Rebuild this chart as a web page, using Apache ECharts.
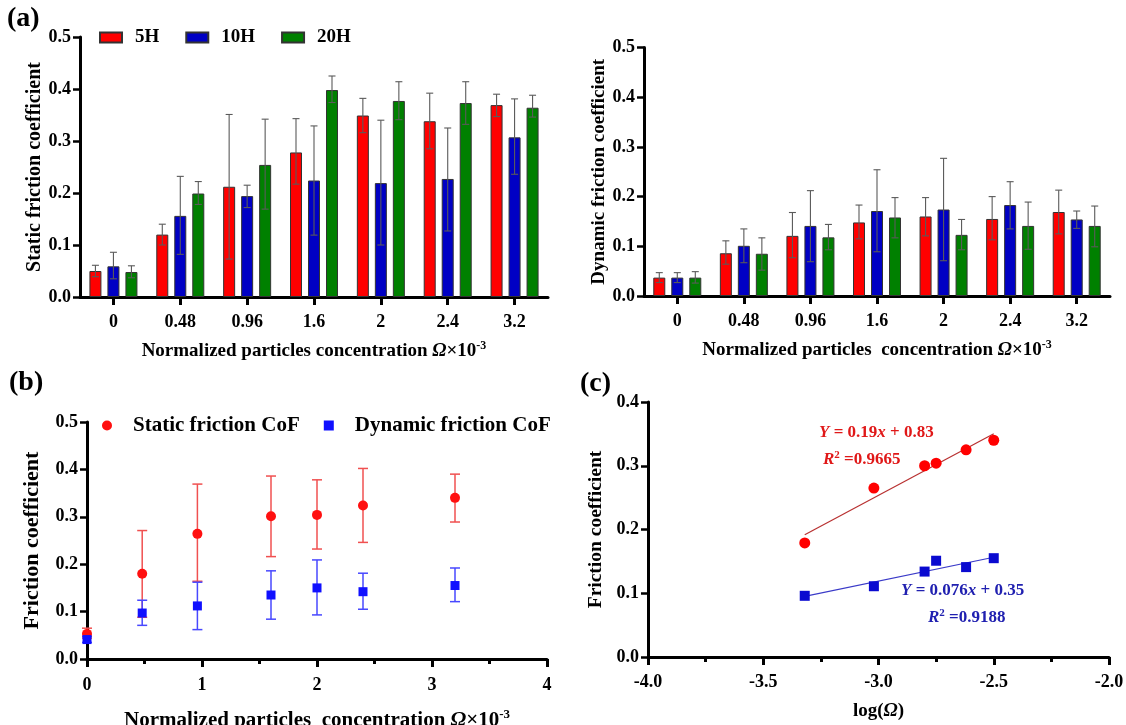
<!DOCTYPE html>
<html>
<head>
<meta charset="utf-8">
<script src="https://cdn.jsdelivr.net/npm/echarts@6/dist/echarts.min.js"></script>
<style>
html,body{margin:0;padding:0;background:#fff;}
#chart{width:1126px;height:725px;}
</style>
</head>
<body>
<div id="chart"></div>
<script>
// ---------- DATA ----------
const categories = ['0', '0.48', '0.96', '1.6', '2', '2.4', '3.2'];
const seriesNames = ['5H', '10H', '20H'];

// (a) static friction coefficient: bar means, lower / upper error limits
const static5H    = [0.050, 0.120, 0.212, 0.278, 0.349, 0.338, 0.369];
const static5HLo  = [0.039, 0.100, 0.073, 0.217, 0.316, 0.285, 0.347];
const static5HHi  = [0.061, 0.140, 0.351, 0.343, 0.382, 0.392, 0.390];
const static10H   = [0.059, 0.156, 0.194, 0.224, 0.219, 0.227, 0.307];
const static10HLo = [0.035, 0.082, 0.172, 0.119, 0.100, 0.127, 0.236];
const static10HHi = [0.086, 0.232, 0.215, 0.329, 0.340, 0.325, 0.381];
const static20H   = [0.048, 0.199, 0.254, 0.398, 0.377, 0.373, 0.364];
const static20HLo = [0.037, 0.178, 0.169, 0.374, 0.341, 0.332, 0.346];
const static20HHi = [0.060, 0.222, 0.342, 0.425, 0.414, 0.414, 0.388];

// (a) dynamic friction coefficient
const dyn5H    = [0.037, 0.086, 0.121, 0.148, 0.160, 0.155, 0.169];
const dyn5HLo  = [0.027, 0.064, 0.077, 0.115, 0.121, 0.113, 0.125];
const dyn5HHi  = [0.047, 0.111, 0.168, 0.183, 0.198, 0.200, 0.213];
const dyn10H   = [0.037, 0.101, 0.141, 0.171, 0.174, 0.183, 0.154];
const dyn10HLo = [0.027, 0.067, 0.069, 0.089, 0.071, 0.135, 0.136];
const dyn10HHi = [0.047, 0.135, 0.212, 0.254, 0.277, 0.230, 0.171];
const dyn20H   = [0.037, 0.085, 0.118, 0.158, 0.123, 0.141, 0.141];
const dyn20HLo = [0.026, 0.052, 0.093, 0.117, 0.093, 0.094, 0.099];
const dyn20HHi = [0.049, 0.117, 0.144, 0.198, 0.154, 0.189, 0.181];

// (b) averaged CoF vs concentration
const concX        = [0, 0.48, 0.96, 1.6, 2, 2.4, 3.2];
const meanStatic   = [0.053, 0.180, 0.264, 0.301, 0.304, 0.324, 0.340];
const meanStaticLo = [0.044, 0.088, 0.164, 0.216, 0.232, 0.246, 0.289];
const meanStaticHi = [0.065, 0.271, 0.369, 0.386, 0.378, 0.402, 0.390];
const meanDyn      = [0.041, 0.097, 0.112, 0.135, 0.150, 0.142, 0.155];
const meanDynLo    = [0.035, 0.071, 0.062, 0.084, 0.093, 0.105, 0.121];
const meanDynHi    = [0.047, 0.124, 0.162, 0.186, 0.209, 0.181, 0.192];

// (c) CoF vs log(Omega)
const logX      = [-3.32, -3.02, -2.80, -2.75, -2.62, -2.50];
const logStatic = [0.179, 0.265, 0.300, 0.304, 0.325, 0.340];
const logDyn    = [0.096, 0.111, 0.134, 0.151, 0.141, 0.155];

// ---------- HELPERS ----------
const FONT = "'Liberation Serif', 'Times New Roman', serif";
const RED = '#ff0000', BLUE = '#0000c4', GREEN = '#008000';

function linFit(xs, ys) {
  const n = xs.length;
  const mx = xs.reduce((a, b) => a + b, 0) / n;
  const my = ys.reduce((a, b) => a + b, 0) / n;
  let sxy = 0, sxx = 0;
  for (let i = 0; i < n; i++) { sxy += (xs[i] - mx) * (ys[i] - my); sxx += (xs[i] - mx) ** 2; }
  const k = sxy / sxx, b = my - k * mx;
  const x0 = Math.min(...xs), x1 = Math.max(...xs);
  return [[x0, k * x0 + b], [x1, k * x1 + b]];
}

function errRender(offset, color, capHalf, lw) {
  return function (params, api) {
    const x = api.value(0), lo = api.value(1), hi = api.value(2);
    const pLo = api.coord([x, lo]);
    const pHi = api.coord([x, hi]);
    const cx = pLo[0] + offset;
    const st = { stroke: color, lineWidth: lw };
    return {
      type: 'group',
      children: [
        { type: 'line', shape: { x1: cx, y1: pLo[1], x2: cx, y2: pHi[1] }, style: st },
        { type: 'line', shape: { x1: cx - capHalf, y1: pHi[1], x2: cx + capHalf, y2: pHi[1] }, style: st },
        { type: 'line', shape: { x1: cx - capHalf, y1: pLo[1], x2: cx + capHalf, y2: pLo[1] }, style: st }
      ]
    };
  };
}
function errData(xs, lo, hi) { return xs.map((x, i) => [x, lo[i], hi[i]]); }

const axLine = { show: true, lineStyle: { color: '#000', width: 3 } };
const axTick = { show: true, length: 7, lineStyle: { color: '#000', width: 2.5 } };
const lbl = (extra) => Object.assign({ color: '#000', fontFamily: FONT, fontWeight: 'bold', fontSize: 18 }, extra || {});
const nameStyle = (size) => ({
  color: '#000', fontFamily: FONT, fontWeight: 'bold', fontSize: size,
  rich: {
    n: { fontFamily: FONT, fontWeight: 'bold', fontSize: size, color: '#000', lineHeight: size + 4 },
    o: { fontFamily: FONT, fontWeight: 'bold', fontStyle: 'italic', fontSize: size, color: '#000', lineHeight: size + 4 },
    s: { fontFamily: FONT, fontWeight: 'bold', fontSize: Math.round(size * 0.62), color: '#000', lineHeight: Math.round(size * 0.7), verticalAlign: 'top' }
  }
});
const concName = (sp) => '{n|Normalized particles' + sp + 'concentration }{o|Ω}{n|×10}{s|-3}';

function yVal(gi, max, name, gap, size) {
  return {
    type: 'value', gridIndex: gi, min: 0, max: max, interval: 0.1,
    axisLine: axLine, axisTick: axTick, splitLine: { show: false },
    axisLabel: lbl({ margin: 9, formatter: v => v.toFixed(1) }),
    name: name, nameLocation: 'middle', nameGap: gap, nameTextStyle: nameStyle(size)
  };
}
function xCat(gi, gap, sp) {
  return {
    type: 'category', gridIndex: gi, data: categories,
    axisLine: axLine, axisTick: { show: true, alignWithLabel: true, length: 8, lineStyle: { color: '#000', width: 3 } },
    axisLabel: lbl({ margin: 16 }),
    name: concName(sp), nameLocation: 'middle', nameGap: gap, nameTextStyle: nameStyle(19)
  };
}

function barSeries(name, color, data, xi) {
  return {
    type: 'bar', name: name, xAxisIndex: xi, yAxisIndex: xi, data: data,
    barWidth: 12, barGap: '50%', z: 2,
    itemStyle: { color: color, borderColor: '#333', borderWidth: 1 }
  };
}
function errSeries(xi, offset, lo, hi, color, capHalf, lw, xs) {
  return {
    type: 'custom', xAxisIndex: xi, yAxisIndex: xi, z: 5, clip: false, silent: true,
    renderItem: errRender(offset, color, capHalf, lw),
    data: errData(xs || categories.map((c, i) => i), lo, hi)
  };
}

const fitS = linFit(logX, logStatic);
const fitD = linFit(logX, logDyn);

const option = {
  animation: false,
  backgroundColor: '#fff',
  textStyle: { fontFamily: FONT },
  grid: [
    { left: 80, top: 37, width: 468, height: 260, outerBoundsMode: 'none', containLabel: false },
    { left: 644, top: 47.5, width: 466, height: 248.5, outerBoundsMode: 'none', containLabel: false },
    { left: 87, top: 422, width: 460, height: 237, outerBoundsMode: 'none', containLabel: false },
    { left: 648, top: 402, width: 461, height: 255, outerBoundsMode: 'none', containLabel: false }
  ],
  legend: [
    {
      data: seriesNames, left: 99, top: 28, padding: 0, itemWidth: 22, itemHeight: 10, itemGap: 26,
      icon: 'rect', selectedMode: false,
      textStyle: { fontFamily: FONT, fontWeight: 'bold', fontSize: 19, color: '#000', padding: [0, 0, 0, 8] }
    },
    {
      data: ['Static friction CoF', 'Dynamic friction CoF'], left: 102, top: 415, padding: 0,
      itemWidth: 10, itemHeight: 10, itemGap: 24, selectedMode: false,
      textStyle: { fontFamily: FONT, fontWeight: 'bold', fontSize: 21, color: '#000', padding: [0, 0, 0, 16] }
    }
  ],
  xAxis: [
    xCat(0, 43, ' '),
    xCat(1, 43, '  '),
    {
      type: 'value', gridIndex: 2, min: 0, max: 4, interval: 1,
      axisLine: axLine, axisTick: { show: true, length: 8, lineStyle: { color: '#000', width: 3 } },
      minorTick: { show: true, splitNumber: 2, length: 5, lineStyle: { color: '#000', width: 3 } },
      splitLine: { show: false },
      axisLabel: lbl({ margin: 17 }),
      name: concName('  '), nameLocation: 'middle', nameGap: 49, nameTextStyle: nameStyle(21)
    },
    {
      type: 'value', gridIndex: 3, min: -4, max: -2, interval: 0.5,
      axisLine: axLine, axisTick: { show: true, length: 8, lineStyle: { color: '#000', width: 3 } },
      minorTick: { show: true, splitNumber: 2, length: 5, lineStyle: { color: '#000', width: 3 } },
      splitLine: { show: false },
      axisLabel: lbl({ margin: 16, formatter: v => v.toFixed(1) }),
      name: '{n|log(}{o|Ω}{n|)}', nameLocation: 'middle', nameGap: 43, nameTextStyle: nameStyle(19)
    }
  ],
  yAxis: [
    yVal(0, 0.5, 'Static friction coefficient', 35, 20),
    yVal(1, 0.5, 'Dynamic friction coefficient', 34, 19),
    yVal(2, 0.5, 'Friction coefficient', 44, 22),
    yVal(3, 0.4, 'Friction coefficient', 42, 19.5)
  ],
  series: [
    barSeries('5H', RED, static5H, 0),
    barSeries('10H', BLUE, static10H, 0),
    barSeries('20H', GREEN, static20H, 0),
    errSeries(0, -18, static5HLo, static5HHi, '#5a5a5a', 3.5, 1.1),
    errSeries(0, 0, static10HLo, static10HHi, '#5a5a5a', 3.5, 1.1),
    errSeries(0, 18, static20HLo, static20HHi, '#5a5a5a', 3.5, 1.1),

    barSeries('5H', RED, dyn5H, 1),
    barSeries('10H', BLUE, dyn10H, 1),
    barSeries('20H', GREEN, dyn20H, 1),
    errSeries(1, -18, dyn5HLo, dyn5HHi, '#5a5a5a', 3.5, 1.1),
    errSeries(1, 0, dyn10HLo, dyn10HHi, '#5a5a5a', 3.5, 1.1),
    errSeries(1, 18, dyn20HLo, dyn20HHi, '#5a5a5a', 3.5, 1.1),

    errSeries(2, 0, meanStaticLo, meanStaticHi, '#f05050', 5, 1.5, concX),
    errSeries(2, 0, meanDynLo, meanDynHi, '#4848ff', 5, 1.5, concX),
    {
      type: 'scatter', name: 'Static friction CoF', xAxisIndex: 2, yAxisIndex: 2, z: 6, clip: false,
      symbol: 'circle', symbolSize: 10, itemStyle: { color: '#ff1010', opacity: 1 },
      data: concX.map((x, i) => [x, meanStatic[i]])
    },
    {
      type: 'scatter', name: 'Dynamic friction CoF', xAxisIndex: 2, yAxisIndex: 2, z: 6, clip: false,
      symbol: 'rect', symbolSize: 9, itemStyle: { color: '#1010ff', opacity: 1 },
      data: concX.map((x, i) => [x, meanDyn[i]])
    },

    {
      type: 'line', xAxisIndex: 3, yAxisIndex: 3, data: fitS, symbol: 'none', z: 3, silent: true,
      lineStyle: { color: '#b83030', width: 1.2 }
    },
    {
      type: 'line', xAxisIndex: 3, yAxisIndex: 3, data: fitD, symbol: 'none', z: 3, silent: true,
      lineStyle: { color: '#3a3ac8', width: 1.2 }
    },
    {
      type: 'scatter', xAxisIndex: 3, yAxisIndex: 3, z: 6, symbol: 'circle', symbolSize: 11,
      itemStyle: { color: '#ff0000', opacity: 1 }, data: logX.map((x, i) => [x, logStatic[i]])
    },
    {
      type: 'scatter', xAxisIndex: 3, yAxisIndex: 3, z: 6, symbol: 'rect', symbolSize: 10,
      itemStyle: { color: '#0a0ad0', opacity: 1 }, data: logX.map((x, i) => [x, logDyn[i]])
    }
  ],
  graphic: [
    { type: 'text', left: 7, top: 5, style: { text: '(a)', font: "bold 28px 'Liberation Serif', serif", fill: '#000' } },
    { type: 'text', left: 9, top: 369, style: { text: '(b)', font: "bold 28px 'Liberation Serif', serif", fill: '#000' } },
    { type: 'text', left: 580, top: 370, style: { text: '(c)', font: "bold 28px 'Liberation Serif', serif", fill: '#000' } },
    {
      type: 'text', left: 819, top: 424,
      style: {
        text: '{i|Y}{t| = 0.19}{i|x}{t| + 0.83}', fill: '#e01818',
        rich: {
          i: { fontFamily: FONT, fontWeight: 'bold', fontStyle: 'italic', fontSize: 17, fill: '#e01818' },
          t: { fontFamily: FONT, fontWeight: 'bold', fontSize: 17, fill: '#e01818' }
        }
      }
    },
    {
      type: 'text', left: 823, top: 450,
      style: {
        text: '{i|R}{s|2}{t| =0.9665}', fill: '#e01818',
        rich: {
          i: { fontFamily: FONT, fontWeight: 'bold', fontStyle: 'italic', fontSize: 17, fill: '#e01818', lineHeight: 20 },
          s: { fontFamily: FONT, fontWeight: 'bold', fontSize: 11, fill: '#e01818', lineHeight: 12, verticalAlign: 'top' },
          t: { fontFamily: FONT, fontWeight: 'bold', fontSize: 17, fill: '#e01818', lineHeight: 20 }
        }
      }
    },
    {
      type: 'text', left: 901, top: 582,
      style: {
        text: '{i|Y}{t| = 0.076}{i|x}{t| + 0.35}', fill: '#2020b0',
        rich: {
          i: { fontFamily: FONT, fontWeight: 'bold', fontStyle: 'italic', fontSize: 17, fill: '#2020b0' },
          t: { fontFamily: FONT, fontWeight: 'bold', fontSize: 17, fill: '#2020b0' }
        }
      }
    },
    {
      type: 'text', left: 928, top: 608,
      style: {
        text: '{i|R}{s|2}{t| =0.9188}', fill: '#2020b0',
        rich: {
          i: { fontFamily: FONT, fontWeight: 'bold', fontStyle: 'italic', fontSize: 17, fill: '#2020b0', lineHeight: 20 },
          s: { fontFamily: FONT, fontWeight: 'bold', fontSize: 11, fill: '#2020b0', lineHeight: 12, verticalAlign: 'top' },
          t: { fontFamily: FONT, fontWeight: 'bold', fontSize: 17, fill: '#2020b0', lineHeight: 20 }
        }
      }
    }
  ]
};

const chart = echarts.init(document.getElementById('chart'), null, { renderer: 'canvas' });
chart.setOption(option);
</script>
</body>
</html>
